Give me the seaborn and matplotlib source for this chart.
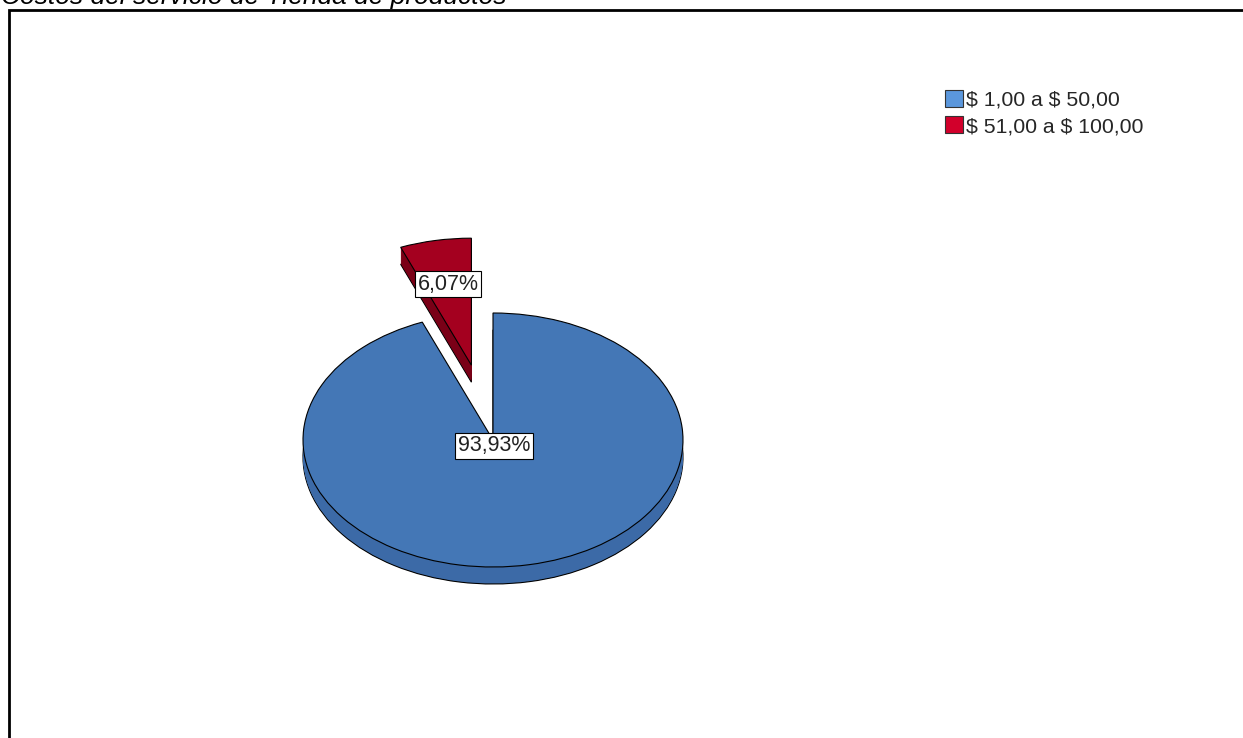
import matplotlib
matplotlib.use("Agg")
import matplotlib.pyplot as plt
from matplotlib.patches import Patch, Rectangle
import numpy as np
import seaborn as sns

# Data
categories = ["$ 1,00 a $ 50,00", "$ 51,00 a $ 100,00"]
percentages = [93.93, 6.07]
title = "Costos del servicio de Tienda de productos"

sns.set_theme(style="white")
plt.rcParams["font.family"] = ["Liberation Sans", "DejaVu Sans"]
plt.rcParams["text.parse_math"] = False  # dollar signs are literal currency

top_colors = ["#4477b6", "#a4001f"]
side_colors = ["#3c6aa7", "#7a0017"]
legend_colors = ["#5b97dc", "#d2002b"]
explode = [0.0, 0.6]

W, H = 1243, 738
fig = plt.figure(figsize=(W / 100, H / 100), dpi=100)
fig.patch.set_facecolor("white")

# Axes placed so one pie radius spans 190 px across and 127 px vertically
cx, cy = 493, 440
rx, ry = 190, 127
half_w, half_h = 300, 250
ax = fig.add_axes([(cx - half_w) / W, (H - cy - half_h) / H, 2 * half_w / W, 2 * half_h / H])

# Side wall of the tilted pie: stacked, darker copies shifted downward
depth = 17 / ry
n_layers = 17
for k in range(n_layers, 0, -1):
    off = -depth * k / n_layers
    if k == n_layers:
        wp = dict(edgecolor="black", linewidth=0.8)
    else:
        wp = dict(edgecolor="none", linewidth=0)
    ax.pie(percentages, colors=side_colors, startangle=90, counterclock=False,
           explode=explode, center=(0, off), wedgeprops=wp)

# Top face
wedges, _ = ax.pie(percentages, colors=top_colors, startangle=90, counterclock=False,
                   explode=explode, center=(0, 0),
                   wedgeprops=dict(edgecolor="black", linewidth=0.8))

ax.set_aspect("auto")
ax.set_xlim(-half_w / rx, half_w / rx)
ax.set_ylim(-half_h / ry, half_h / ry)
ax.axis("off")

# Percentage labels
def fmt(v):
    return f"{v:.2f}%".replace(".", ",")

box = dict(boxstyle="square,pad=0.12", facecolor="white", edgecolor="black", linewidth=0.8)
w_small = wedges[1]
mid = np.deg2rad((w_small.theta1 + w_small.theta2) / 2)
ax.text(1.25 * np.cos(mid), 1.25 * np.sin(mid), fmt(percentages[1]),
        ha="center", va="center", fontsize=15.5, color="#222222", bbox=box, zorder=10)
ax.text(0.005, -0.045, fmt(percentages[0]),
        ha="center", va="center", fontsize=15.5, color="#222222", bbox=box, zorder=10)

# Legend
handles = [Patch(facecolor=c, edgecolor="#333333", linewidth=0.8) for c in legend_colors]
fig.legend(handles, categories, loc="upper left", bbox_to_anchor=(945 / W, 1 - 90 / H),
           frameon=False, fontsize=15.3, handlelength=0.85, handleheight=0.85,
           handletextpad=0.12, labelspacing=0.3, borderaxespad=0, borderpad=0)

# Chart frame (runs past the right and bottom edges)
fig.add_artist(Rectangle((9 / W, -0.1), 1.2, 1 - 10 / H + 0.1, transform=fig.transFigure,
                         fill=False, edgecolor="black", linewidth=2, clip_on=False))

# Title, partly above the top edge
fig.text(1 / W, 1 - 4 / H, title, ha="left", va="baseline", fontsize=19,
         style="italic", color="black")

fig.savefig("out.png", dpi=100)
